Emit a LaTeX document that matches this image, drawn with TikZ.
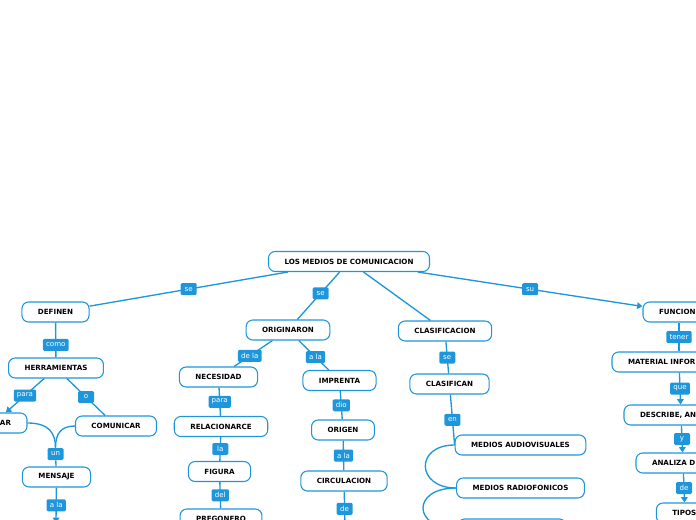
\documentclass[tikz,border=0pt]{standalone}
\usepackage{fontspec}
\usetikzlibrary{arrows.meta}
\newfontfamily\mapfont{DejaVu Sans}
\definecolor{mmblue}{RGB}{30,150,220}
\tikzset{
  topic/.style={draw=mmblue, fill=white, line width=0.8pt, rounded corners=5pt,
    minimum height=15pt, inner xsep=12pt, inner ysep=0pt,
    font=\mapfont\fontsize{5.35}{6}\selectfont\bfseries},
  tag/.style={fill=mmblue, text=white, rounded corners=1pt, inner xsep=2.4pt,
    inner ysep=0pt, minimum height=9pt, minimum width=12pt,
    font=\mapfont\fontsize{5.3}{6}\selectfont},
  link/.style={draw=mmblue, line width=1pt},
  linkarr/.style={link, -{Triangle[width=5pt,length=4pt]}}
}
\begin{document}
\begin{tikzpicture}[x=0.75pt, y=-0.75pt]
  \useasboundingbox (0,0) rectangle (696,520);
  \clip (0,0) rectangle (696,520);
  % draw topic boxes
  \node[topic] (root) at (349,261.5) {LOS MEDIOS DE COMUNICACION};
  \node[topic] (def) at (55.5,312) {DEFINEN};
  \node[topic] (her) at (56,368) {HERRAMIENTAS};
  \node[topic, text width=25.5pt, align=right] (ar) at (-6,423) {AR};
  \node[topic] (com) at (116,426) {COMUNICAR};
  \node[topic] (msj) at (56.5,477) {MENSAJE};
  \coordinate (msjend) at (56,523);
  \node[topic] (ori) at (288,330) {ORIGINARON};
  \node[topic] (nec) at (218.5,377) {NECESIDAD};
  \node[topic] (rel) at (221,426.5) {RELACIONARCE};
  \node[topic] (fig) at (219.5,471.5) {FIGURA};
  \node[topic] (pre) at (221,519) {PREGONERO};
  \node[topic] (imp) at (339.5,380.5) {IMPRENTA};
  \node[topic] (org) at (343,430) {ORIGEN};
  \node[topic] (cir) at (344,481) {CIRCULACION};
  \coordinate (cirend) at (345,526);
  \node[topic] (cla) at (445,331) {CLASIFICACION};
  \node[topic] (clf) at (449.5,384) {CLASIFICAN};
  \node[topic] (aud) at (520.5,445) {MEDIOS AUDIOVISUALES};
  \node[topic] (rad) at (520.5,488) {MEDIOS RADIOFONICOS};
  \node[topic, minimum width=81pt] (med) at (512,529) {};
  \node[topic, text width=30pt, align=left] (fun) at (679,312) {FUNCION};
  \node[topic, text width=76.5pt, align=left] (mat) at (679,362) {MATERIAL INFOR};
  \node[topic, text width=61.5pt, align=left] (desc) at (681,415) {DESCRIBE, AN};
  \node[topic, text width=46.5pt, align=left] (ana) at (683,463) {ANALIZA D};
  \node[topic, text width=19pt, align=left] (tip) at (685,513) {TIPOS};

  % draw links with their tags
  \draw[link] (root) -- node[tag] (se1) {se} (def);
  \draw[link] (root) -- node[tag, pos=0.45] (se2) {se} (ori);
  \draw[link] (root) -- (cla);
  \draw[linkarr] (root) -- node[tag] (su) {su} (fun);
  \draw[link] (def) -- node[tag, pos=0.64] (como) {como} (her);
  \draw[linkarr] (her) -- node[tag] (para1) {para} (ar);
  \draw[link] (her) -- node[tag] (o) {o} (com);
  \node[tag] (un) at (55.5,454) {un};
  \draw[link] (ar.east) .. controls +(22,0) and +(0,-14) .. (un.north);
  \draw[link] (com.west) .. controls +(-14,0) and +(0,-14) .. (un.north);
  \draw[link] (un) -- (msj);
  \draw[linkarr] (msj) -- node[tag] (ala1) {a la} (msjend);
  \draw[link] (ori) -- node[tag, pos=0.59] (dela) {de la} (nec);
  \draw[link] (ori) -- node[tag, pos=0.56] (ala2) {a la} (imp);
  \draw[link] (nec) -- node[tag] (para2) {para} (rel);
  \draw[link] (rel) -- node[tag] (la) {la} (fig);
  \draw[link] (fig) -- node[tag] (del) {del} (pre);
  \draw[link] (imp) -- node[tag] (dio) {dio} (org);
  \draw[link] (org) -- node[tag] (ala3) {a la} (cir);
  \draw[link] (cir) -- node[tag] (de1) {de} (cirend);
  \draw[link] (cla) -- node[tag] (se3) {se} (clf);
  \draw[link] (clf) -- node[tag] (en) {en} (aud.west);
  \draw[link] (aud.west) .. controls +(-40,0) and +(-40,0) .. (rad.west);
  \draw[link] (rad.west) .. controls +(-45,0) and +(-45,0) .. (med.west);
  \draw[link] (fun) -- node[tag] (tener) {tener} (mat);
  \draw[linkarr] (mat) -- node[tag] (que) {que} (desc);
  \draw[linkarr] (desc) -- node[tag] (y) {y} (ana);
  \draw[linkarr] (ana) -- node[tag] (de2) {de} (tip);
\end{tikzpicture}
\end{document}
